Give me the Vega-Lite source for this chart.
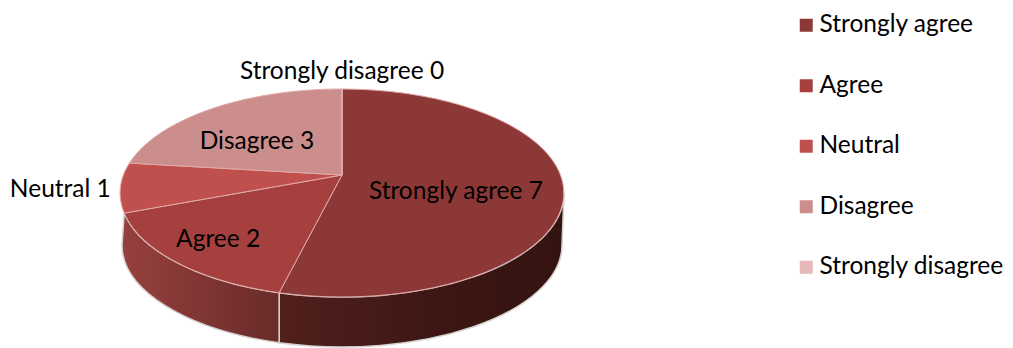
{
  "$schema": "https://vega.github.io/schema/vega-lite/v6.json",
  "width": 1013,
  "height": 348,
  "padding": 0,
  "autosize": {"type": "none"},
  "background": "white",
  "view": {"stroke": null},
  "data": {"values": [
    {"category": "Strongly agree", "value": 7, "order": 0},
    {"category": "Agree", "value": 2, "order": 1},
    {"category": "Neutral", "value": 1, "order": 2},
    {"category": "Disagree", "value": 3, "order": 3},
    {"category": "Strongly disagree", "value": 0, "order": 4}
  ]},
  "transform": [
    {"joinaggregate": [{"op": "sum", "field": "value", "as": "total"}]},
    {"stack": "value", "sort": [{"field": "order", "order": "ascending"}], "as": ["v0", "v1"]},
    {"calculate": "2*PI*datum.v0/datum.total", "as": "t0"},
    {"calculate": "2*PI*datum.v1/datum.total", "as": "t1"},
    {"calculate": "round(100*218.6*sin(datum.t0)/(1+0.173*cos(datum.t0)))/100", "as": "x0"},
    {"calculate": "round(-100*100.9*cos(datum.t0)/(1+0.173*cos(datum.t0)))/100", "as": "y0"},
    {"calculate": "round(100*218.6*sin(datum.t1)/(1+0.173*cos(datum.t1)))/100", "as": "x1"},
    {"calculate": "round(-100*100.9*cos(datum.t1)/(1+0.173*cos(datum.t1)))/100", "as": "y1"},
    {"calculate": "(datum.t0+datum.t1)/2", "as": "mid"},
    {"calculate": "'M0,0L'+datum.x0+','+datum.y0+'A222,104 0 '+(datum.t1-datum.t0>PI?1:0)+' 1 '+datum.x1+','+datum.y1+'Z'", "as": "wedge"},
    {"calculate": "'M222,18A222,104 0 0 1 '+datum.x1+','+datum.y1+'L'+datum.x1+','+(datum.y1+50)+'A220,102 0 0 0 220,70Z'", "as": "wallRight"},
    {"calculate": "'M'+datum.x0+','+datum.y0+'A222,104 0 0 1 '+datum.x1+','+datum.y1+'L-220,70A220,102 0 0 0 '+datum.x0+','+(datum.y0+50)+'Z'", "as": "wallLeft"},
    {"calculate": "[0.514,0.744,1.271,0.663,0][datum.order]*218.6*sin(datum.mid)/(1+0.173*cos(datum.mid))", "as": "labelX"},
    {"calculate": "[1.2,0.725,1.03,0.523,1.22][datum.order]*-100.9*cos(datum.mid)/(1+0.173*cos(datum.mid))", "as": "labelY"},
    {"calculate": "datum.category+' '+datum.value", "as": "label"}
  ],
  "layer": [
    {
      "transform": [{"filter": "datum.order === 0"}],
      "mark": {
        "type": "point", "filled": true, "size": 4, "opacity": 1,
        "fill": {"gradient": "linear", "x1": 0, "y1": 0, "x2": 1, "y2": 0, "stops": [
          {"offset": 0, "color": "#52201d"},
          {"offset": 0.5, "color": "#3f1714"},
          {"offset": 1, "color": "#331310"}
        ]},
        "stroke": "#d5d1d1", "strokeWidth": 1.5
      },
      "encoding": {
        "x": {"datum": 0, "type": "quantitative", "axis": null, "scale": {"domain": [-342, 671], "nice": false, "zero": false}},
        "y": {"datum": 0, "type": "quantitative", "axis": null, "scale": {"domain": [-175, 173], "reverse": true, "nice": false, "zero": false}},
        "shape": {"field": "wallRight", "type": "nominal", "scale": null, "legend": null}
      }
    },
    {
      "transform": [{"filter": "datum.order === 1"}],
      "mark": {
        "type": "point", "filled": true, "size": 4, "opacity": 1,
        "fill": {"gradient": "linear", "x1": 0, "y1": 0, "x2": 1, "y2": 0, "stops": [
          {"offset": 0, "color": "#97403e"},
          {"offset": 1, "color": "#692b29"}
        ]},
        "stroke": "#d5d1d1", "strokeWidth": 1.5
      },
      "encoding": {
        "x": {"datum": 0, "type": "quantitative", "axis": null},
        "y": {"datum": 0, "type": "quantitative", "axis": null},
        "shape": {"field": "wallLeft", "type": "nominal", "scale": null, "legend": null}
      }
    },
    {
      "mark": {"type": "point", "filled": true, "size": 4, "opacity": 1, "stroke": "#e0aaa8", "strokeWidth": 1},
      "encoding": {
        "x": {"datum": 0, "type": "quantitative", "axis": null},
        "y": {"datum": 0, "type": "quantitative", "axis": null},
        "shape": {"field": "wedge", "type": "nominal", "scale": null, "legend": null},
        "fill": {
          "field": "category", "type": "nominal",
          "scale": {
            "domain": ["Strongly agree", "Agree", "Neutral", "Disagree", "Strongly disagree"],
            "range": ["#8c3836", "#a5403e", "#c0504d", "#cc8e8d", "#e6b9b8"]
          },
          "legend": {
            "title": null, "orient": "none", "legendX": 794, "legendY": 13,
            "symbolType": "square", "symbolSize": 169, "symbolStrokeWidth": 0, "symbolOpacity": 1,
            "labelFont": "Lato", "labelFontSize": 24.5, "labelColor": "#000000", "labelOffset": 1,
            "labelLimit": 300, "rowPadding": 35.5
          }
        }
      }
    },
    {
      "mark": {"type": "text", "font": "Lato", "fontSize": 24.5, "color": "#000000", "align": "center", "baseline": "middle", "dy": 2},
      "encoding": {
        "x": {"field": "labelX", "type": "quantitative", "axis": null},
        "y": {"field": "labelY", "type": "quantitative", "axis": null},
        "text": {"field": "label", "type": "nominal"}
      }
    }
  ]
}
